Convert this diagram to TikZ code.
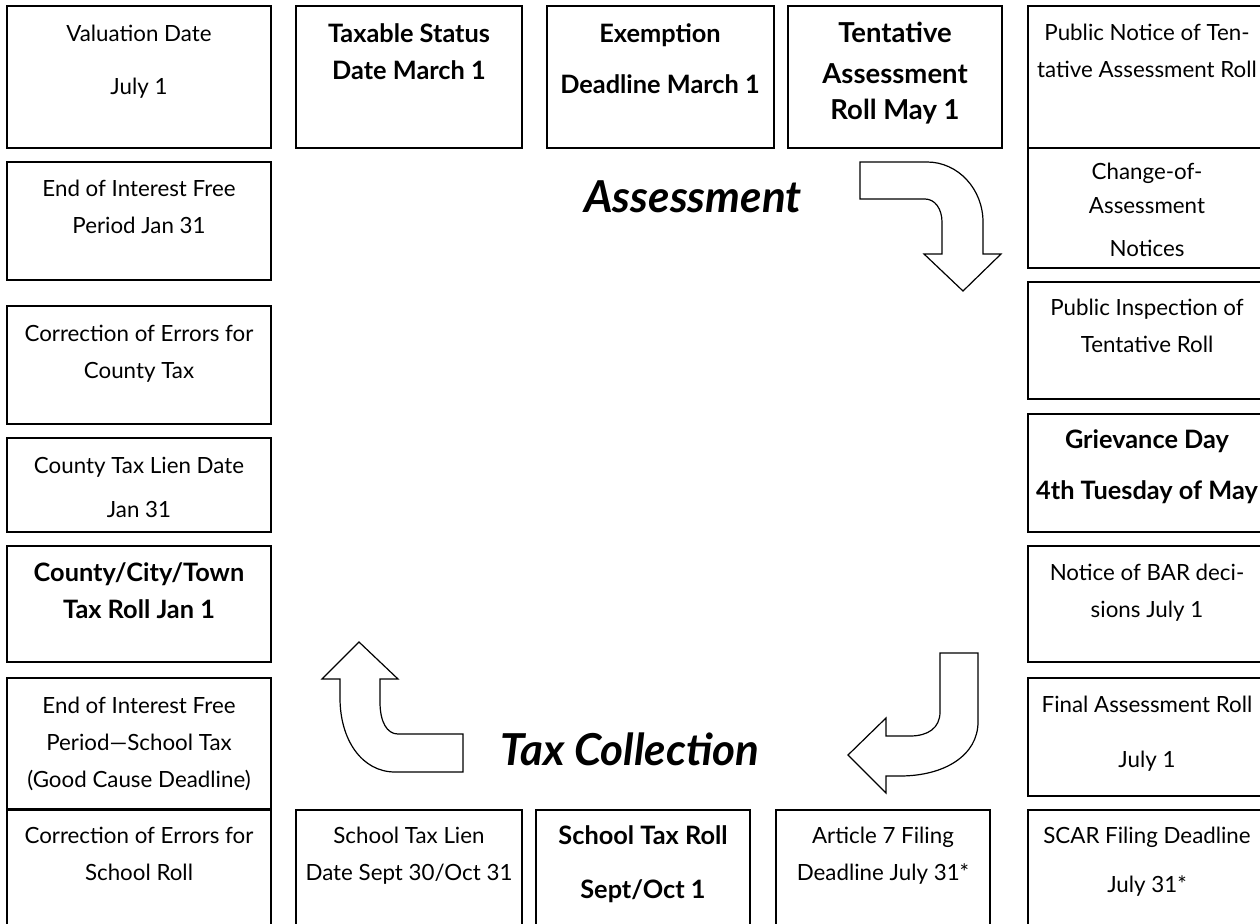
\documentclass[tikz,border=0pt]{standalone}
\usepackage{fontspec}
\setmainfont{Lato}
\usepackage{tikz}

\tikzset{
  boxline/.style={draw=black, line width=1.4pt},
  txt/.style={anchor=north, align=center, inner sep=0pt,
    font=\fontsize{16.75}{27.75}\selectfont},
  btxt/.style={txt, font=\fontsize{19}{27.75}\selectfont\bfseries},
  bigbtxt/.style={txt, font=\fontsize{20.6}{27.75}\selectfont\bfseries},
  bigtxt/.style={anchor=base, inner sep=0pt,
    font=\fontsize{33}{40}\selectfont\bfseries\itshape},
  turn/.style={draw=black, fill=white, line width=0.9pt, line join=miter}
}

\begin{document}
\begin{tikzpicture}[x=0.75pt,y=-0.75pt]
  \useasboundingbox (0,0) rectangle (1260,924);
  \clip (0,0) rectangle (1260,924);

  % left column
  \draw[boxline] (7,6) rectangle (271,148);
  \draw[boxline] (7,162) rectangle (271,280);
  \draw[boxline] (7,306) rectangle (271,424);
  \draw[boxline] (7,438) rectangle (271,532);
  \draw[boxline] (7,546) rectangle (271,662);
  \draw[boxline] (7,678) rectangle (271,809);
  \draw[boxline] (7,810) rectangle (271,934);

  \node[txt] (valuation) at (139,25) {Valuation Date\\[12pt]July 1};
  \node[txt] (eoicounty) at (139,180) {End of Interest Free\\Period Jan 31};
  \node[txt] (corrcounty) at (139,325) {Correction of Errors for\\County Tax};
  \node[txt] (countylien) at (139,457) {County Tax Lien Date\\[5pt]Jan 31};
  \node[btxt] (countyroll) at (139,562) {County/City/Town\\Tax Roll Jan 1};
  \node[txt] (eoischool) at (139,697) {End of Interest Free\\Period---School Tax\\(Good Cause Deadline)};
  \node[txt] (corrschool) at (139,827) {Correction of Errors for\\School Roll};

  % top row
  \draw[boxline] (296,6) rectangle (522,148);
  \draw[boxline] (547,6) rectangle (774,148);
  \draw[boxline] (788,6) rectangle (1002,148);

  \node[btxt] (taxstatus) at (409,23) {Taxable Status\\Date March 1};
  \node[btxt] (exemption) at (660,23) {Exemption\\[11pt]Deadline March 1};
  \node[bigbtxt] (tentative) at (895,22) {Tentative\\[3pt]Assessment\\[-0.75pt]Roll May 1};

  % right column
  \draw[boxline] (1028,6) rectangle (1268,148);
  \draw[boxline] (1028,148) rectangle (1268,268);
  \draw[boxline] (1028,282) rectangle (1268,399);
  \draw[boxline] (1028,414) rectangle (1268,532);
  \draw[boxline] (1028,546) rectangle (1268,662);
  \draw[boxline] (1028,678) rectangle (1268,796);
  \draw[boxline] (1028,810) rectangle (1268,934);

  \node[txt] (pubnotice) at (1147,24) {Public Notice of Ten-\\tative Assessment Roll};
  \node[txt] (changenote) at (1147,163) {Change-of-\\[-2.25pt]Assessment\\[4.5pt]Notices};
  \node[txt] (inspection) at (1147,299) {Public Inspection of\\Tentative Roll};
  \node[btxt] (grievance) at (1147,429) {Grievance Day\\[11pt]4th Tuesday of May};
  \node[txt] (bardecision) at (1147,564) {Notice of BAR deci-\\sions July 1};
  \node[txt] (finalroll) at (1147,696) {Final Assessment Roll\\[13pt]July 1};
  \node[txt] (scar) at (1147,827) {SCAR Filing Deadline\\[9pt]July 31*};

  % bottom row
  \draw[boxline] (296,810) rectangle (522,934);
  \draw[boxline] (536,810) rectangle (750,934);
  \draw[boxline] (776,810) rectangle (990,934);

  \node[txt] (schoollien) at (409,827) {School Tax Lien\\Date Sept 30/Oct 31};
  \node[btxt] (schoolroll) at (643,825) {School Tax Roll\\[13pt]Sept/Oct 1};
  \node[txt] (article7) at (883,827) {Article 7 Filing\\Deadline July 31*};

  % cycle labels
  \node[bigtxt] (assess) at (693,212) {Assessment};
  \node[bigtxt] (collect) at (630,765) {Tax Collection};

  % turning arrows
  \draw[turn] (860,162) -- (927,162) .. controls (958,162) and (983,189) .. (983,222)
    -- (983,254) -- (1001,254) -- (963,291) -- (924,254) -- (942,254) -- (942,222)
    .. controls (942,209) and (935,199) .. (925,199) -- (860,199) -- cycle;
  \draw[turn] (940,653) -- (978,653) -- (978,722) .. controls (978,755) and (945,776) .. (900,776)
    -- (886,776) -- (886,793) -- (848,755) -- (886,718) -- (886,736) -- (910,736)
    .. controls (928,736) and (940,728) .. (940,712) -- cycle;
  \draw[turn] (359,642) -- (398,679) -- (380,679) -- (380,702) .. controls (380,722) and (387,734) .. (398,734)
    -- (463,734) -- (463,772) -- (395,772) .. controls (362,772) and (340,740) .. (340,698)
    -- (340,679) -- (322,679) -- cycle;
\end{tikzpicture}
\end{document}
